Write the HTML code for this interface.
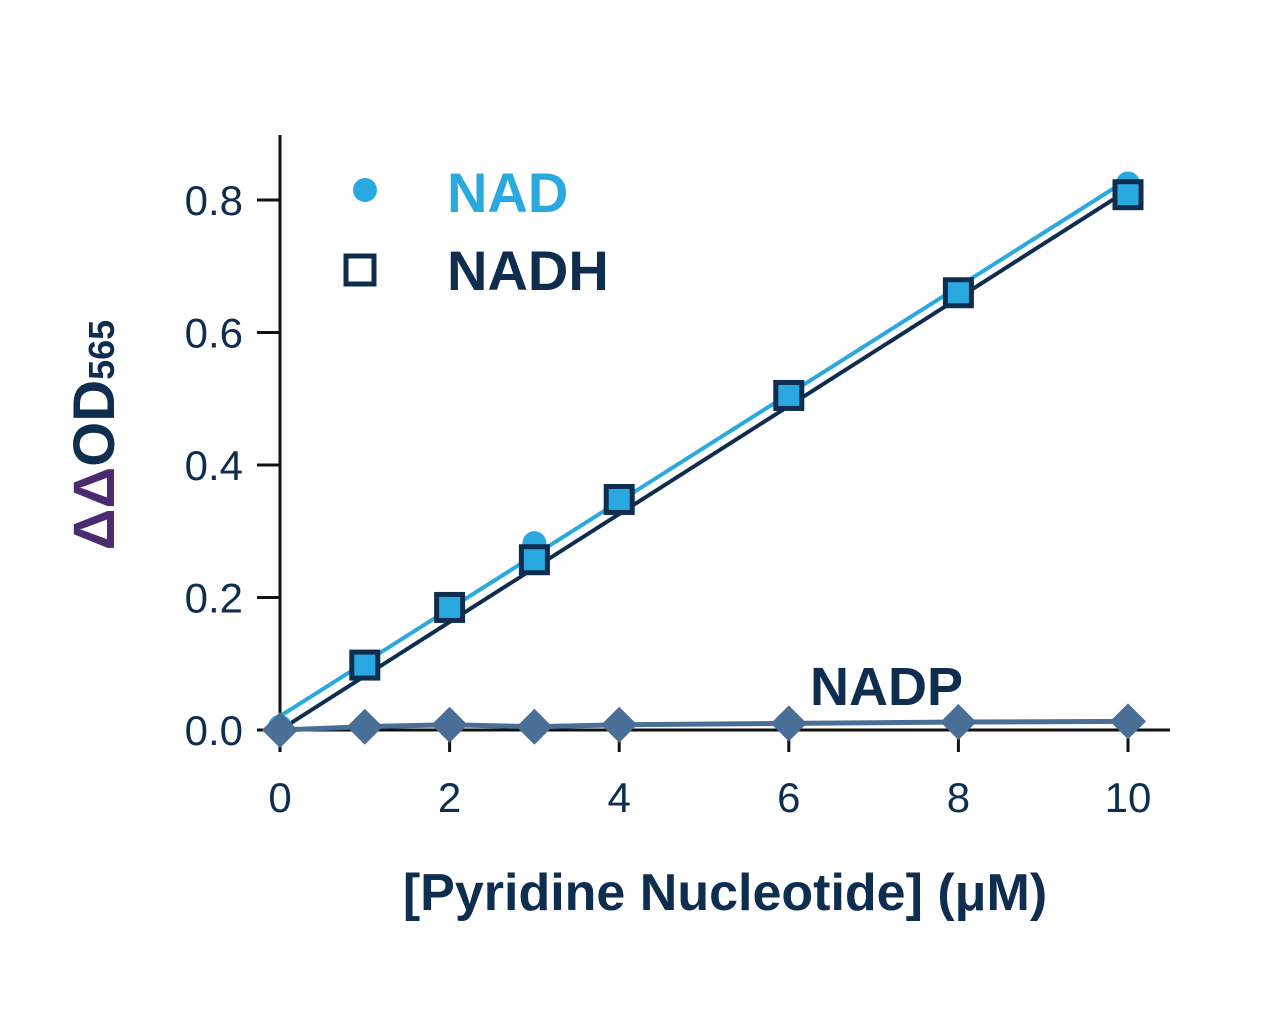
<!DOCTYPE html>
<html><head><meta charset="utf-8"><style>
body{margin:0;background:#fff}
svg text{font-family:"Liberation Sans",sans-serif}
</style></head><body>
<svg id="chart" width="1280" height="1026" viewBox="0 0 1280 1026" xmlns="http://www.w3.org/2000/svg">
<g id="axes"></g>
<g id="marks"></g>
<text x="447" y="212" font-size="56" font-weight="bold" fill="#29a9e0">NAD</text>
<circle cx="365" cy="190" r="12" fill="#29a9e0"/>
<text x="447" y="290" font-size="56" font-weight="bold" fill="#0e2d4f">NADH</text>
<rect x="346" y="256" width="28" height="28" fill="none" stroke="#0e2d4f" stroke-width="5"/>
<text x="810" y="705" font-size="54" font-weight="bold" fill="#0e2d4f">NADP</text>
<text x="725" y="910" text-anchor="middle" font-size="52" font-weight="bold" fill="#0e2d4f">[Pyridine Nucleotide] (μM)</text>
<text transform="translate(114,435) rotate(-90)" text-anchor="middle" font-size="58" font-weight="bold"><tspan fill="#4b2a6e">ΔΔ</tspan><tspan fill="#0e2d4f">OD</tspan><tspan fill="#0e2d4f" font-size="36" dy="0">565</tspan></text>
</svg>
<script>
const xs=[0,1,2,3,4,6,8,10];
const nad=[0.005,0.1,0.185,0.282,0.35,0.51,0.665,0.825];
const nadh=[null,0.098,0.185,0.257,0.348,0.505,0.66,0.808];
const nadp=[0,0.005,0.008,0.005,0.008,0.01,0.012,0.013];
const xTicks=[0,2,4,6,8,10];
const yTicks=["0.0","0.2","0.4","0.6","0.8"];
const X=v=>280+v*84.8, Y=v=>730-v*662.5;
const NS="http://www.w3.org/2000/svg";
function mk(p,t,a){const e=document.createElementNS(NS,t);for(const k in a)e.setAttribute(k,a[k]);p.appendChild(e);return e;}
const ax=document.getElementById('axes'), mg=document.getElementById('marks');
let e=mk(ax,'line',{x1:280,y1:135,x2:280,y2:732,stroke:'#111',"stroke-width":3});


e=mk(ax,'line',{x1:278,y1:730,x2:1170,y2:730,stroke:'#111',"stroke-width":3});


yTicks.forEach(t=>{const y=Y(parseFloat(t));
 e=mk(ax,'line',{x1:257,y1:y,x2:280,y2:y,stroke:'#111',"stroke-width":3});
 
 
 e=mk(ax,'text',{x:243,y:y+15,"text-anchor":"end","font-size":42,fill:'#0e2d4f'});e.textContent=t;
 
 });
xTicks.forEach(t=>{const x=X(t);
 e=mk(ax,'line',{x1:x,y1:730,x2:x,y2:752,stroke:'#111',"stroke-width":3});
 
 
 e=mk(ax,'text',{x:x,y:812,"text-anchor":"middle","font-size":42,fill:'#0e2d4f'});e.textContent=t;
 
 });
// fit lines
function fit(xa,ya){let n=0,sx=0,sy=0,sxx=0,sxy=0;xa.forEach((x,i)=>{const y=ya[i];if(y==null)return;n++;sx+=x;sy+=y;sxx+=x*x;sxy+=x*y;});const m=(n*sxy-sx*sy)/(n*sxx-sx*sx);return [m,(sy-m*sx)/n];}
let [m,b]=fit(xs,nad);
e=mk(mg,'line',{x1:X(0),y1:Y(b),x2:X(10),y2:Y(b+10*m),stroke:'#29a9e0',"stroke-width":4});


[m,b]=fit(xs,nadh);
e=mk(mg,'line',{x1:X(0),y1:Y(0),x2:X(10),y2:Y(b+10*m),stroke:'#0e2d4f',"stroke-width":4});


xs.forEach((x,i)=>{e=mk(mg,'circle',{cx:X(x),cy:Y(nad[i]),r:12,fill:'#29a9e0'});
 
 });
xs.forEach((x,i)=>{if(nadh[i]==null)return;e=mk(mg,'rect',{x:X(x)-13,y:Y(nadh[i])-13,width:26,height:26,fill:'#29a9e0',stroke:'#0e2d4f',"stroke-width":5});
 
 });
e=mk(mg,'polyline',{points:xs.map((x,i)=>X(x)+','+Y(nadp[i])).join(' '),fill:'none',stroke:'#4a6f96',"stroke-width":5});


xs.forEach((x,i)=>{const cx=X(x),cy=Y(nadp[i]);e=mk(mg,'polygon',{points:`${cx},${cy-18} ${cx+18},${cy} ${cx},${cy+18} ${cx-18},${cy}`,fill:'#4a6f96'});
 
 });
</script>
</body></html>
